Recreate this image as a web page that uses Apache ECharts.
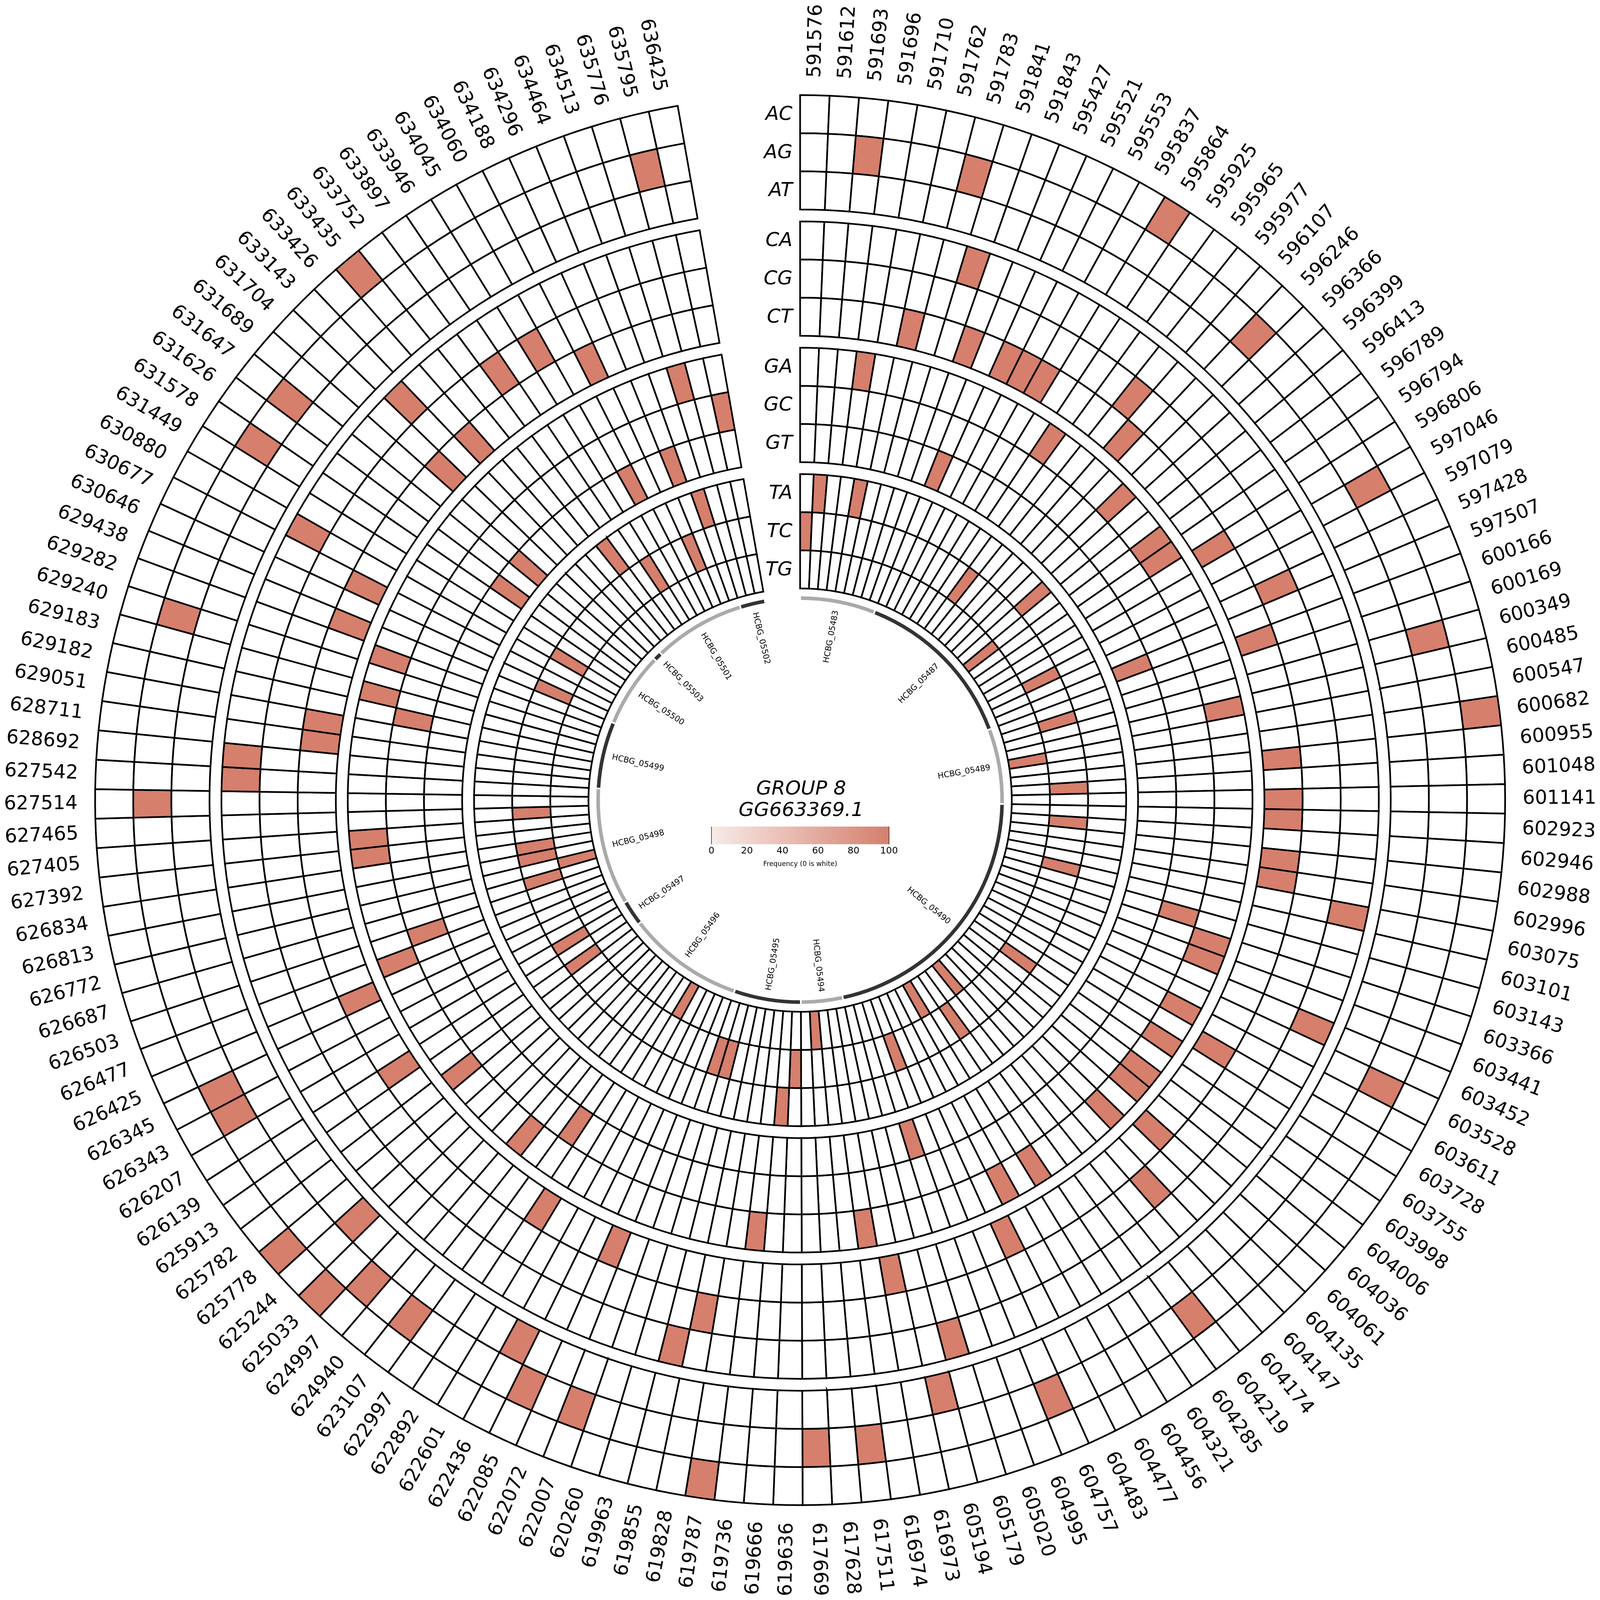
<!DOCTYPE html>
<html lang="en">
<head>
  <meta charset="UTF-8">
  <title>GROUP 8 GG663369.1</title>
  <style>
    html, body { margin: 0; padding: 0; background: #fff; overflow: hidden; }
    #chart { width: 100vw; height: 100vh; }
  </style>
</head>
<body>
<div id="chart"></div>

<script src="https://cdn.jsdelivr.net/npm/echarts@6/dist/echarts.min.js"></script>
<script>
  const positions = [
    591576, 591612, 591693, 591696, 591710, 591762, 591783, 591841, 591843, 595427,
    595521, 595553, 595837, 595864, 595925, 595965, 595977, 596107, 596246, 596366,
    596399, 596413, 596789, 596794, 596806, 597046, 597079, 597428, 597507, 600166,
    600169, 600349, 600485, 600547, 600682, 600955, 601048, 601141, 602923, 602946,
    602988, 602996, 603075, 603101, 603143, 603366, 603441, 603452, 603528, 603611,
    603728, 603755, 603998, 604006, 604036, 604061, 604135, 604147, 604174, 604219,
    604285, 604321, 604456, 604477, 604483, 604757, 604995, 605020, 605179, 605194,
    616973, 616974, 617511, 617628, 617669, 619636, 619666, 619736, 619787, 619828,
    619855, 619963, 620260, 622007, 622072, 622085, 622436, 622601, 622892, 622997,
    623107, 624940, 624997, 625033, 625244, 625778, 625782, 625913, 626139, 626207,
    626343, 626345, 626425, 626477, 626503, 626687, 626772, 626813, 626834, 627392,
    627405, 627465, 627514, 627542, 628692, 628711, 629051, 629182, 629183, 629240,
    629282, 629438, 630646, 630677, 630880, 631449, 631578, 631626, 631647, 631689,
    631704, 633143, 633426, 633435, 633752, 633897, 633946, 634045, 634060, 634188,
    634296, 634464, 634513, 635776, 635795, 636425
  ];

  // rows from the outermost ring inwards, three per group
  const rowNames = ['AC', 'AG', 'AT', 'CA', 'CG', 'CT', 'GA', 'GC', 'GT', 'TA', 'TC', 'TG'];

  // columns (index into positions) where the frequency is 100, all others are 0
  const hitsAC = [13, 34, 78, 93, 95, 133];
  const hitsAG = [2, 6, 18, 25, 31, 48, 59, 65, 72, 74, 83, 85, 90, 92, 100, 101, 112, 119, 126, 128, 144];
  const hitsAT = [69, 86, 94];
  const hitsCA = [7, 42, 47, 68, 80, 113, 114, 124, 131];
  const hitsCG = [16, 27, 57, 79, 135, 137];
  const hitsCT = [5, 8, 10, 11, 12, 17, 24, 29, 35, 37, 38, 40, 41, 50, 55, 64, 70, 84, 88, 98, 102, 115, 116, 121, 123, 130, 132, 139];
  const hitsGA = [3, 14, 19, 22, 23, 32, 45, 46, 49, 51, 53, 54, 56, 61, 63, 71, 77, 91, 96, 103, 109, 110, 118, 120, 143];
  const hitsGC = [44, 89, 104, 117, 145];
  const hitsGT = [9, 28, 67, 127, 129, 138, 141];
  const hitsTA = [1, 4, 20, 76, 134, 142];
  const hitsTC = [0, 15, 26, 30, 36, 39, 43, 52, 60, 66, 75, 81, 82, 97, 99, 105, 107, 108, 111, 122, 125, 136, 140];
  const hitsTG = [21, 33, 58, 62, 73, 87, 106];
  const rowHits = [hitsAC, hitsAG, hitsAT, hitsCA, hitsCG, hitsCT, hitsGA, hitsGC, hitsGT, hitsTA, hitsTC, hitsTG];

  const geneNames = ['HCBG_05483', 'HCBG_05487', 'HCBG_05489', 'HCBG_05490', 'HCBG_05494', 'HCBG_05495', 'HCBG_05496',
    'HCBG_05497', 'HCBG_05498', 'HCBG_05499', 'HCBG_05500', 'HCBG_05503', 'HCBG_05501', 'HCBG_05502'];
  const geneFirstCol = [0, 9, 29, 38, 70, 75, 83, 97, 100, 114, 122, 131, 132, 143];
  const geneLastCol = [8, 28, 37, 69, 74, 82, 96, 99, 113, 121, 130, 131, 142, 145];

  const colorbarRange = [0, 100];

  const dom = document.getElementById('chart');
  const chart = echarts.init(dom);

  // everything below is measured on the 6713 px reference, S maps that to the real window
  const S = chart.getWidth() / 6713;
  const FONT = '"DejaVu Sans"';
  const HIT_COLOR = '#d57f6c';
  const LOW_COLOR = '#f8ebe8';
  const CENTER = 3357;
  const RADIUS_MAX = 3400;
  const ARC_DEGREES = 350;
  const ROW_HEIGHT = 160;
  const GROUP_GAP = 50;
  const OUTER_RADIUS = 2958;
  const LINE_WIDTH = 7;

  const colAngle = (col) => col * ARC_DEGREES / positions.length;
  const rowOuter = (row) => OUTER_RADIUS - row * ROW_HEIGHT - Math.floor(row / 3) * GROUP_GAP;

  // sector shape in pixels, worked out from the polar axes
  function sector(params, api, r0, r1, a0, a1) {
    const cx = params.coordSys.cx;
    const cy = params.coordSys.cy;
    const p0 = api.coord([r1, a0]);
    const p1 = api.coord([r1, a1]);
    const start = Math.atan2(p0[1] - cy, p0[0] - cx);
    let end = Math.atan2(p1[1] - cy, p1[0] - cx);
    if (end < start) end += Math.PI * 2;
    return {cx: cx, cy: cy, r0: r0 * S, r: r1 * S, startAngle: start, endAngle: end, clockwise: true};
  }

  // text along the radius, flipped on the left half so that it stays readable
  function radialText(params, api, radius, angle, text, fontSize) {
    const p = api.coord([radius, angle]);
    const outward = Math.atan2(params.coordSys.cy - p[1], p[0] - params.coordSys.cx);
    return {
      type: 'text',
      x: p[0],
      y: p[1],
      rotation: angle <= 180 ? outward : outward + Math.PI,
      style: {text: text, fill: '#000', fontSize: fontSize * S, fontFamily: FONT, align: 'center', verticalAlign: 'middle'}
    };
  }

  function renderCell(params, api) {
    const row = api.value(0);
    const col = api.value(1);
    const value = api.value(2);
    const outer = rowOuter(row);
    return {
      type: 'sector',
      shape: sector(params, api, outer - ROW_HEIGHT, outer, colAngle(col), colAngle(col + 1)),
      style: {
        fill: value > 0 ? echarts.color.lerp(value / 100, [LOW_COLOR, HIT_COLOR]) : '#fff',
        stroke: '#000',
        lineWidth: LINE_WIDTH * S
      }
    };
  }

  function renderPosition(params, api) {
    const col = api.value(0);
    return radialText(params, api, 3186, colAngle(col + 0.5), String(positions[col]), 81);
  }

  function renderRowName(params, api) {
    const row = api.value(0);
    const p = api.coord([rowOuter(row) - ROW_HEIGHT / 2, 0]);
    return {
      type: 'text',
      x: p[0] - 32 * S,
      y: p[1] + 3 * S,
      style: {text: rowNames[row], fill: '#000', fontSize: 82 * S, fontFamily: FONT, fontStyle: 'italic', align: 'right', verticalAlign: 'middle'}
    };
  }

  function renderGene(params, api) {
    const i = api.value(0);
    const first = colAngle(geneFirstCol[i]);
    const last = colAngle(geneLastCol[i] + 1);
    return {
      type: 'group',
      children: [
        {
          type: 'sector',
          shape: sector(params, api, 840, 855, first + 0.24, last - 0.24),
          style: {fill: i % 2 === 0 ? '#aaaaaa' : '#333333'}
        },
        radialText(params, api, 698, (first + last) / 2, geneNames[i], 34)
      ]
    };
  }

  function renderColorbar(params, api) {
    const a = api.coord([api.value(0), 1]);
    const b = api.coord([api.value(1), 0]);
    const side = (x) => ({type: 'line', shape: {x1: x, y1: a[1], x2: x, y2: b[1]}, style: {stroke: '#000', lineWidth: 2 * S}});
    return {
      type: 'group',
      children: [
        {
          type: 'rect',
          shape: {x: a[0], y: a[1], width: b[0] - a[0], height: b[1] - a[1]},
          style: {
            fill: new echarts.graphic.LinearGradient(0, 0, 1, 0, [
              {offset: 0, color: LOW_COLOR},
              {offset: 1, color: HIT_COLOR}
            ])
          }
        },
        side(a[0]),
        side(b[0])
      ]
    };
  }

  const cells = [];
  rowNames.forEach((name, row) => {
    positions.forEach((pos, col) => {
      cells.push([row, col, rowHits[row].includes(col) ? 100 : 0]);
    });
  });

  chart.setOption({
    backgroundColor: '#fff',
    animation: false,
    title: {
      text: 'GROUP 8\nGG663369.1',
      left: (CENTER - 4) * S,
      top: 3259 * S,
      textAlign: 'center',
      textStyle: {fontFamily: FONT, fontSize: 83 * S, fontStyle: 'italic', fontWeight: 'normal', color: '#000', lineHeight: 90 * S}
    },
    polar: {center: [CENTER * S, CENTER * S], radius: [0, RADIUS_MAX * S]},
    radiusAxis: {type: 'value', min: 0, max: RADIUS_MAX, show: false},
    angleAxis: {type: 'value', min: 0, max: 360, startAngle: 90, clockwise: true, show: false},
    grid: {left: 2985 * S, top: 3468 * S, width: 745 * S, height: 74 * S},
    xAxis: {
      type: 'value',
      min: colorbarRange[0],
      max: colorbarRange[1],
      interval: 20,
      axisLine: {show: false},
      axisTick: {show: false},
      splitLine: {show: false},
      axisLabel: {color: '#000', fontSize: 39 * S, fontFamily: FONT, margin: 9 * S},
      name: 'Frequency (0 is white)',
      nameLocation: 'middle',
      nameGap: 70 * S,
      nameTextStyle: {color: '#000', fontSize: 28 * S, fontFamily: FONT}
    },
    yAxis: {type: 'value', min: 0, max: 1, show: false},
    series: [
      {type: 'custom', coordinateSystem: 'polar', silent: true, progressive: 0, renderItem: renderCell, data: cells},
      {type: 'custom', coordinateSystem: 'polar', silent: true, progressive: 0, renderItem: renderPosition, data: positions.map((p, i) => [i])},
      {type: 'custom', coordinateSystem: 'polar', silent: true, renderItem: renderRowName, data: rowNames.map((n, i) => [i])},
      {type: 'custom', coordinateSystem: 'polar', silent: true, renderItem: renderGene, data: geneNames.map((n, i) => [i])},
      {type: 'custom', coordinateSystem: 'cartesian2d', silent: true, renderItem: renderColorbar, data: [colorbarRange]}
    ]
  });
</script>
</body>
</html>
